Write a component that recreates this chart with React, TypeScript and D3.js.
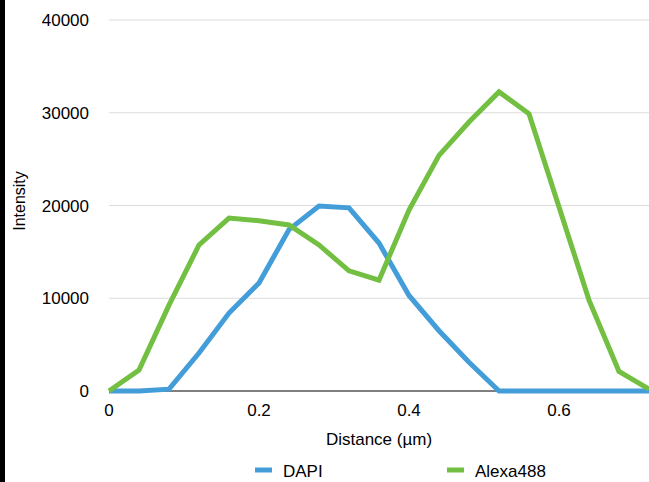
import React from "react";
import * as d3 from "d3";

const distances = [0, 0.04, 0.08, 0.12, 0.16, 0.2, 0.24, 0.28, 0.32, 0.36, 0.4, 0.44, 0.48, 0.52, 0.56, 0.6, 0.64, 0.68, 0.72];
const dapi = [0, 0, 200, 4100, 8400, 11650, 17400, 19950, 19750, 15950, 10300, 6500, 3100, 0, 0, 0, 0, 0, 0];
const alexa488 = [0, 2250, 9250, 15750, 18650, 18350, 17900, 15750, 12950, 11950, 19500, 25400, 29000, 32250, 29900, 19850, 9800, 2100, 200];
const yTicks = [0, 10000, 20000, 30000, 40000];
const xTicks = [0, 0.2, 0.4, 0.6];
const seriesNames = ["DAPI", "Alexa488"];
const seriesColors = ["#439dd9", "#72bf41"];

export default function App() {
  const W = 649, H = 482;
  const x = d3.scaleLinear().domain([0, 0.72]).range([109, 649]);
  const y = d3.scaleLinear().domain([0, 40000]).range([391, 20]);
  const line = d3.line<number>().x((_, i) => x(distances[i])).y((d) => y(d));
  const font = "'Liberation Sans', Arial, Helvetica, sans-serif";
  const series = [dapi, alexa488];
  return (
    <svg width={W} height={H} style={{ position: "absolute", left: 0, top: 0, background: "#fff" }} fontFamily={font}>
      <rect x={0} y={0} width={W} height={H} fill="#fff" />
      <rect x={0} y={0} width={5} height={H} fill="#000" />
      {yTicks.map((t) => (
        <g key={t}>
          {t !== 0 && <line x1={109} x2={649} y1={y(t)} y2={y(t)} stroke="#dcdcdc" strokeWidth={1} />}
          <text x={89} y={y(t) + 6} textAnchor="end" fontSize={17} fill="#000">{t}</text>
        </g>
      ))}
      <line x1={109} x2={649} y1={y(0)} y2={y(0)} stroke="#000" strokeWidth={1} />
      {xTicks.map((t) => (
        <text key={t} x={x(t)} y={416} textAnchor="middle" fontSize={17} fill="#000">{t}</text>
      ))}
      <text x={379} y={445} textAnchor="middle" fontSize={17} fill="#000">Distance (µm)</text>
      <text transform="translate(25,201) rotate(-90)" textAnchor="middle" fontSize={16} fill="#000">Intensity</text>
      {series.map((s, i) => (
        <path key={i} d={line(s) || ""} fill="none" stroke={seriesColors[i]} strokeWidth={5} strokeLinejoin="miter" strokeLinecap="butt" />
      ))}
      {seriesNames.map((n, i) => {
        const sx = i === 0 ? 255 : 447;
        return (
          <g key={n}>
            <line x1={sx} x2={sx + 17} y1={470} y2={470} stroke={seriesColors[i]} strokeWidth={5} />
            <text x={sx + 28} y={477} fontSize={17} fill="#000">{n}</text>
          </g>
        );
      })}
    </svg>
  );
}
